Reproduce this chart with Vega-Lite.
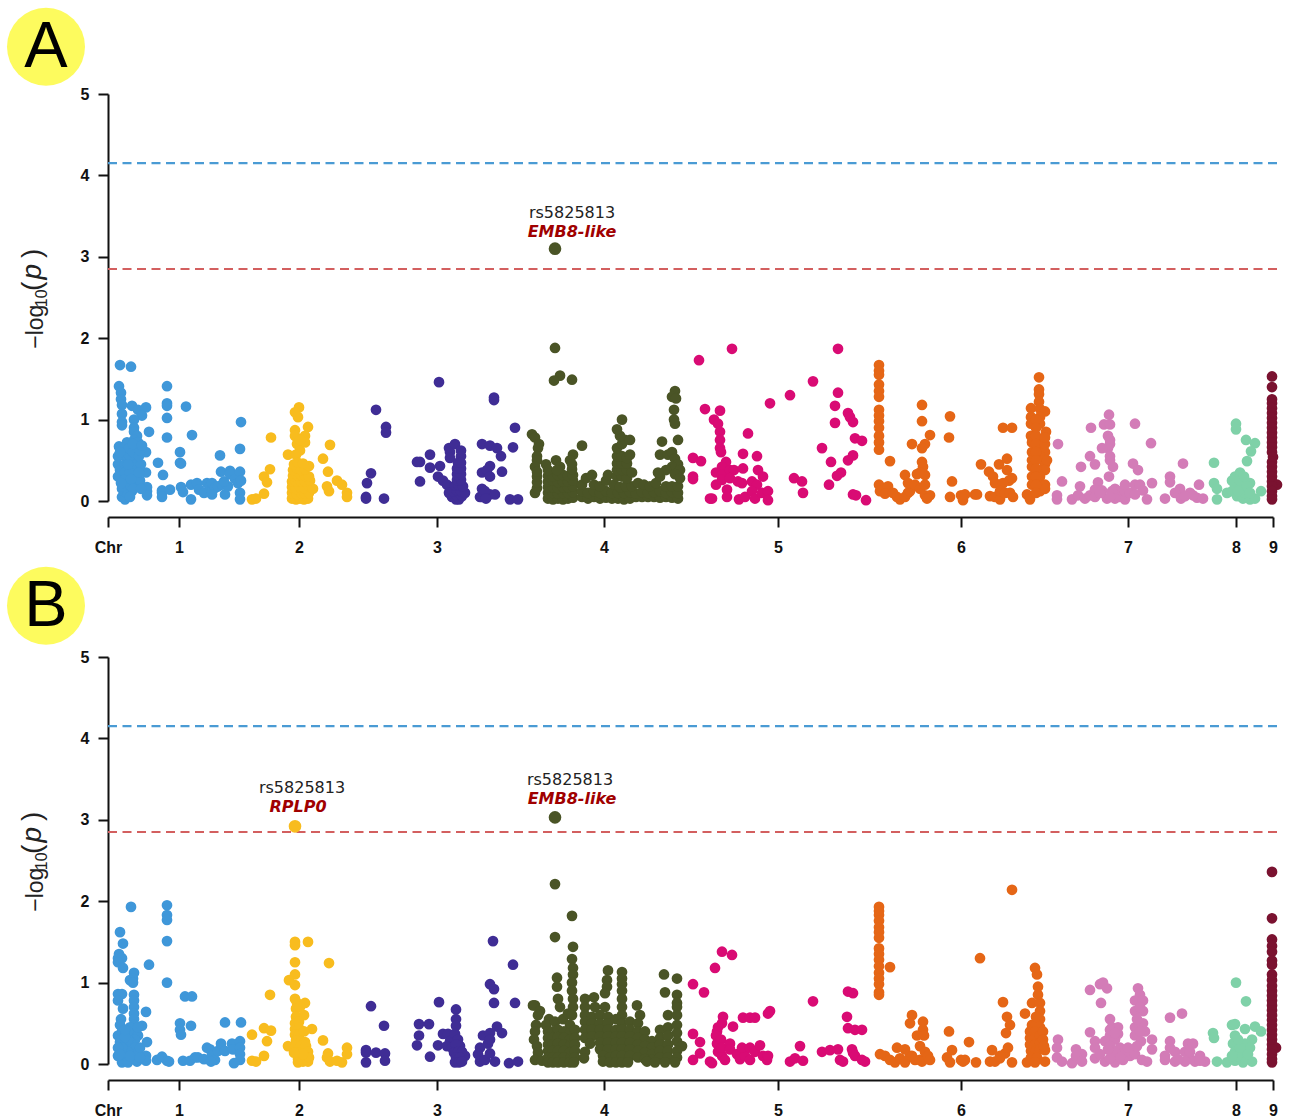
{"$schema":"https://vega.github.io/schema/vega-lite/v6.json","background":"white","padding":{"left":7,"top":7,"right":5,"bottom":5},"bounds":"flush","spacing":156,
"config":{"view":{"stroke":null},"axis":{"grid":false,"domainColor":"#111","tickColor":"#111","domainWidth":2,"tickWidth":2,"tickSize":10,"labelColor":"#111","labelFont":"Liberation Sans","labelFontWeight":"bold","labelFontSize":16,"title":null}},
"datasets":{
"thr":[{"x":108,"x2":1277,"y":4.15,"k":"suggestive"},{"x":108,"x2":1277,"y":2.85,"k":"significant"}],
"ylab":[{"x":43,"y":1.87,"t":"−log"},{"x":47,"y":2.38,"t":"10"}],
"ylabp":[{"x":41,"y":2.58,"t":"("},{"x":41,"y":2.985,"t":")"}],
"ylabi":[{"x":41,"y":2.72,"t":"p"}],
"hitA":[{"c":"4","x":555,"y":3.1}],
"hitB":[{"c":"2","x":295,"y":2.92},{"c":"4","x":555,"y":3.03}],
"snpA":[{"x":572,"y":3.54,"t":"rs5825813"}],
"geneA":[{"x":572,"y":3.3,"t":"EMB8-like"}],
"snpB":[{"x":302,"y":3.39,"t":"rs5825813"},{"x":570,"y":3.49,"t":"rs5825813"}],
"geneB":[{"x":298,"y":3.16,"t":"RPLP0"},{"x":572,"y":3.26,"t":"EMB8-like"}],
"tagA":[{"x":46,"y":5.58,"t":"A"}],
"tagB":[{"x":46,"y":5.63,"t":"B"}],
"a":[
{"c":"1","x":120,"y":1.67},{"c":"1","x":131,"y":1.65},{"c":"1","x":119,"y":1.41},{"c":"1","x":121,"y":1.33},{"c":"1","x":121,"y":1.25},{"c":"1","x":122,"y":1.18},{"c":"1","x":132,"y":1.17},{"c":"1","x":138,"y":1.12},{"c":"1","x":146,"y":1.15},{"c":"1","x":142,"y":1.05},{"c":"1","x":122,"y":1.07},{"c":"1","x":122,"y":0.97},{"c":"1","x":122,"y":0.93},{"c":"1","x":134,"y":1.0},{"c":"1","x":134,"y":0.9},{"c":"1","x":134,"y":0.85},{"c":"1","x":137,"y":0.8},{"c":"1","x":134,"y":0.75},{"c":"1","x":138,"y":0.72},{"c":"1","x":127,"y":0.72},{"c":"1","x":119,"y":0.67},{"c":"1","x":124,"y":0.65},{"c":"1","x":125,"y":0.55},{"c":"1","x":136,"y":0.65},{"c":"1","x":136,"y":0.55},{"c":"1","x":146,"y":0.6},{"c":"1","x":149,"y":0.85},{"c":"1","x":158,"y":0.47},{"c":"1","x":118,"y":0.55},{"c":"1","x":118,"y":0.45},{"c":"1","x":120,"y":0.38},{"c":"1","x":118,"y":0.3},{"c":"1","x":125,"y":0.45},{"c":"1","x":125,"y":0.35},{"c":"1","x":125,"y":0.27},{"c":"1","x":125,"y":0.2},{"c":"1","x":122,"y":0.15},{"c":"1","x":122,"y":0.05},{"c":"1","x":125,"y":0.02},{"c":"1","x":128,"y":0.08},{"c":"1","x":132,"y":0.12},{"c":"1","x":136,"y":0.2},{"c":"1","x":136,"y":0.3},{"c":"1","x":136,"y":0.4},{"c":"1","x":140,"y":0.25},{"c":"1","x":135,"y":0.5},{"c":"1","x":146,"y":0.35},{"c":"1","x":147,"y":0.17},{"c":"1","x":147,"y":0.12},{"c":"1","x":147,"y":0.07},{"c":"1","x":163,"y":0.32},{"c":"1","x":162,"y":0.13},{"c":"1","x":162,"y":0.1},{"c":"1","x":162,"y":0.05},{"c":"1","x":170,"y":0.14},{"c":"1","x":167,"y":1.41},{"c":"1","x":167,"y":1.2},{"c":"1","x":167,"y":1.17},{"c":"1","x":167,"y":1.02},{"c":"1","x":167,"y":0.78},{"c":"1","x":180,"y":0.6},{"c":"1","x":180,"y":0.47},{"c":"1","x":181,"y":0.46},{"c":"1","x":186,"y":1.16},{"c":"1","x":192,"y":0.81},{"c":"1","x":181,"y":0.17},{"c":"1","x":183,"y":0.11},{"c":"1","x":191,"y":0.02},{"c":"1","x":191,"y":0.2},{"c":"1","x":197,"y":0.22},{"c":"1","x":199,"y":0.14},{"c":"1","x":204,"y":0.1},{"c":"1","x":207,"y":0.22},{"c":"1","x":210,"y":0.18},{"c":"1","x":212,"y":0.12},{"c":"1","x":212,"y":0.22},{"c":"1","x":215,"y":0.16},{"c":"1","x":218,"y":0.18},{"c":"1","x":212,"y":0.08},{"c":"1","x":220,"y":0.56},{"c":"1","x":221,"y":0.36},{"c":"1","x":225,"y":0.08},{"c":"1","x":222,"y":0.2},{"c":"1","x":228,"y":0.18},{"c":"1","x":224,"y":0.24},{"c":"1","x":230,"y":0.37},{"c":"1","x":230,"y":0.33},{"c":"1","x":235,"y":0.27},{"c":"1","x":238,"y":0.22},{"c":"1","x":240,"y":0.36},{"c":"1","x":241,"y":0.25},{"c":"1","x":240,"y":0.64},{"c":"1","x":240,"y":0.1},{"c":"1","x":240,"y":0.02},{"c":"1","x":241,"y":0.97},{"c":"1","x":130,"y":0.55},{"c":"1","x":130,"y":0.35},{"c":"1","x":130,"y":0.2},{"c":"1","x":129,"y":0.65},{"c":"1","x":128,"y":0.45},{"c":"1","x":131,"y":0.27},{"c":"1","x":133,"y":0.6},{"c":"1","x":133,"y":0.15},{"c":"1","x":141,"y":0.45},{"c":"1","x":139,"y":0.55},{"c":"1","x":140,"y":0.62},{"c":"1","x":120,"y":0.6},{"c":"1","x":121,"y":0.22},{"c":"1","x":133,"y":0.7},{"c":"1","x":139,"y":0.35},{"c":"1","x":141,"y":0.15},{"c":"1","x":142,"y":0.68},{"c":"1","x":130,"y":0.05},
{"c":"2","x":252,"y":0.02},{"c":"2","x":256,"y":0.03},{"c":"2","x":264,"y":0.09},{"c":"2","x":264,"y":0.3},{"c":"2","x":267,"y":0.23},{"c":"2","x":270,"y":0.39},{"c":"2","x":271,"y":0.78},{"c":"2","x":288,"y":0.57},{"c":"2","x":299,"y":1.15},{"c":"2","x":295,"y":1.09},{"c":"2","x":298,"y":1.03},{"c":"2","x":308,"y":0.91},{"c":"2","x":305,"y":0.8},{"c":"2","x":295,"y":0.87},{"c":"2","x":295,"y":0.8},{"c":"2","x":297,"y":0.7},{"c":"2","x":305,"y":0.72},{"c":"2","x":300,"y":0.62},{"c":"2","x":296,"y":0.57},{"c":"2","x":300,"y":0.75},{"c":"2","x":292,"y":0.03},{"c":"2","x":296,"y":0.02},{"c":"2","x":300,"y":0.03},{"c":"2","x":304,"y":0.02},{"c":"2","x":308,"y":0.03},{"c":"2","x":292,"y":0.1},{"c":"2","x":297,"y":0.08},{"c":"2","x":301,"y":0.1},{"c":"2","x":305,"y":0.09},{"c":"2","x":309,"y":0.1},{"c":"2","x":292,"y":0.17},{"c":"2","x":296,"y":0.15},{"c":"2","x":300,"y":0.17},{"c":"2","x":304,"y":0.16},{"c":"2","x":309,"y":0.18},{"c":"2","x":313,"y":0.15},{"c":"2","x":292,"y":0.24},{"c":"2","x":296,"y":0.24},{"c":"2","x":301,"y":0.24},{"c":"2","x":305,"y":0.24},{"c":"2","x":310,"y":0.25},{"c":"2","x":293,"y":0.31},{"c":"2","x":297,"y":0.32},{"c":"2","x":301,"y":0.32},{"c":"2","x":305,"y":0.31},{"c":"2","x":309,"y":0.3},{"c":"2","x":293,"y":0.38},{"c":"2","x":297,"y":0.4},{"c":"2","x":301,"y":0.38},{"c":"2","x":305,"y":0.39},{"c":"2","x":309,"y":0.43},{"c":"2","x":294,"y":0.45},{"c":"2","x":298,"y":0.47},{"c":"2","x":303,"y":0.46},{"c":"2","x":330,"y":0.69},{"c":"2","x":323,"y":0.52},{"c":"2","x":328,"y":0.36},{"c":"2","x":337,"y":0.25},{"c":"2","x":342,"y":0.2},{"c":"2","x":327,"y":0.18},{"c":"2","x":329,"y":0.12},{"c":"2","x":347,"y":0.1},{"c":"2","x":347,"y":0.05},
{"c":"3","x":376,"y":1.12},{"c":"3","x":386,"y":0.91},{"c":"3","x":386,"y":0.84},{"c":"3","x":371,"y":0.34},{"c":"3","x":367,"y":0.22},{"c":"3","x":366,"y":0.05},{"c":"3","x":366,"y":0.03},{"c":"3","x":384,"y":0.03},{"c":"3","x":439,"y":1.46},{"c":"3","x":494,"y":1.27},{"c":"3","x":494,"y":1.24},{"c":"3","x":515,"y":0.9},{"c":"3","x":513,"y":0.66},{"c":"3","x":482,"y":0.7},{"c":"3","x":490,"y":0.68},{"c":"3","x":497,"y":0.65},{"c":"3","x":501,"y":0.55},{"c":"3","x":417,"y":0.48},{"c":"3","x":420,"y":0.48},{"c":"3","x":430,"y":0.57},{"c":"3","x":430,"y":0.41},{"c":"3","x":420,"y":0.24},{"c":"3","x":440,"y":0.43},{"c":"3","x":438,"y":0.3},{"c":"3","x":443,"y":0.25},{"c":"3","x":449,"y":0.65},{"c":"3","x":450,"y":0.6},{"c":"3","x":455,"y":0.7},{"c":"3","x":461,"y":0.62},{"c":"3","x":461,"y":0.55},{"c":"3","x":450,"y":0.53},{"c":"3","x":447,"y":0.2},{"c":"3","x":456,"y":0.02},{"c":"3","x":459,"y":0.02},{"c":"3","x":452,"y":0.05},{"c":"3","x":456,"y":0.07},{"c":"3","x":462,"y":0.06},{"c":"3","x":449,"y":0.1},{"c":"3","x":453,"y":0.12},{"c":"3","x":457,"y":0.13},{"c":"3","x":461,"y":0.12},{"c":"3","x":465,"y":0.1},{"c":"3","x":455,"y":0.19},{"c":"3","x":459,"y":0.19},{"c":"3","x":463,"y":0.18},{"c":"3","x":457,"y":0.26},{"c":"3","x":461,"y":0.26},{"c":"3","x":457,"y":0.33},{"c":"3","x":461,"y":0.33},{"c":"3","x":457,"y":0.4},{"c":"3","x":461,"y":0.4},{"c":"3","x":458,"y":0.47},{"c":"3","x":461,"y":0.47},{"c":"3","x":482,"y":0.35},{"c":"3","x":490,"y":0.43},{"c":"3","x":487,"y":0.38},{"c":"3","x":502,"y":0.36},{"c":"3","x":490,"y":0.3},{"c":"3","x":482,"y":0.15},{"c":"3","x":480,"y":0.05},{"c":"3","x":482,"y":0.05},{"c":"3","x":490,"y":0.08},{"c":"3","x":495,"y":0.08},{"c":"3","x":485,"y":0.12},{"c":"3","x":486,"y":0.03},{"c":"3","x":510,"y":0.02},{"c":"3","x":518,"y":0.02},
{"c":"4","x":555,"y":1.88},{"c":"4","x":560,"y":1.54},{"c":"4","x":554,"y":1.48},{"c":"4","x":572,"y":1.49},{"c":"4","x":532,"y":0.82},{"c":"4","x":535,"y":0.78},{"c":"4","x":539,"y":0.7},{"c":"4","x":538,"y":0.65},{"c":"4","x":537,"y":0.55},{"c":"4","x":537,"y":0.5},{"c":"4","x":535,"y":0.42},{"c":"4","x":535,"y":0.1},{"c":"4","x":537,"y":0.16},{"c":"4","x":537,"y":0.23},{"c":"4","x":537,"y":0.3},{"c":"4","x":537,"y":0.36},{"c":"4","x":582,"y":0.68},{"c":"4","x":546,"y":0.45},{"c":"4","x":556,"y":0.5},{"c":"4","x":560,"y":0.42},{"c":"4","x":573,"y":0.57},{"c":"4","x":570,"y":0.5},{"c":"4","x":548,"y":0.03},{"c":"4","x":553,"y":0.02},{"c":"4","x":558,"y":0.03},{"c":"4","x":563,"y":0.02},{"c":"4","x":568,"y":0.03},{"c":"4","x":573,"y":0.04},{"c":"4","x":548,"y":0.1},{"c":"4","x":553,"y":0.1},{"c":"4","x":558,"y":0.09},{"c":"4","x":563,"y":0.1},{"c":"4","x":568,"y":0.1},{"c":"4","x":573,"y":0.11},{"c":"4","x":548,"y":0.17},{"c":"4","x":553,"y":0.17},{"c":"4","x":558,"y":0.16},{"c":"4","x":563,"y":0.17},{"c":"4","x":568,"y":0.17},{"c":"4","x":573,"y":0.18},{"c":"4","x":548,"y":0.24},{"c":"4","x":553,"y":0.25},{"c":"4","x":558,"y":0.23},{"c":"4","x":563,"y":0.24},{"c":"4","x":568,"y":0.24},{"c":"4","x":573,"y":0.25},{"c":"4","x":548,"y":0.31},{"c":"4","x":553,"y":0.3},{"c":"4","x":558,"y":0.32},{"c":"4","x":563,"y":0.32},{"c":"4","x":568,"y":0.31},{"c":"4","x":573,"y":0.32},{"c":"4","x":548,"y":0.38},{"c":"4","x":557,"y":0.38},{"c":"4","x":572,"y":0.39},{"c":"4","x":572,"y":0.45},{"c":"4","x":582,"y":0.05},{"c":"4","x":588,"y":0.03},{"c":"4","x":594,"y":0.05},{"c":"4","x":600,"y":0.03},{"c":"4","x":606,"y":0.04},{"c":"4","x":612,"y":0.03},{"c":"4","x":618,"y":0.03},{"c":"4","x":624,"y":0.02},{"c":"4","x":630,"y":0.03},{"c":"4","x":636,"y":0.05},{"c":"4","x":642,"y":0.05},{"c":"4","x":648,"y":0.05},{"c":"4","x":654,"y":0.05},{"c":"4","x":660,"y":0.04},{"c":"4","x":666,"y":0.05},{"c":"4","x":672,"y":0.04},{"c":"4","x":678,"y":0.03},{"c":"4","x":582,"y":0.12},{"c":"4","x":588,"y":0.1},{"c":"4","x":594,"y":0.12},{"c":"4","x":600,"y":0.1},{"c":"4","x":606,"y":0.12},{"c":"4","x":612,"y":0.1},{"c":"4","x":618,"y":0.1},{"c":"4","x":624,"y":0.1},{"c":"4","x":630,"y":0.11},{"c":"4","x":636,"y":0.09},{"c":"4","x":642,"y":0.11},{"c":"4","x":648,"y":0.1},{"c":"4","x":654,"y":0.11},{"c":"4","x":660,"y":0.12},{"c":"4","x":666,"y":0.1},{"c":"4","x":672,"y":0.11},{"c":"4","x":678,"y":0.1},{"c":"4","x":582,"y":0.2},{"c":"4","x":586,"y":0.28},{"c":"4","x":592,"y":0.32},{"c":"4","x":594,"y":0.2},{"c":"4","x":600,"y":0.18},{"c":"4","x":606,"y":0.25},{"c":"4","x":608,"y":0.32},{"c":"4","x":614,"y":0.2},{"c":"4","x":620,"y":0.17},{"c":"4","x":626,"y":0.18},{"c":"4","x":632,"y":0.18},{"c":"4","x":638,"y":0.22},{"c":"4","x":644,"y":0.2},{"c":"4","x":650,"y":0.18},{"c":"4","x":656,"y":0.22},{"c":"4","x":660,"y":0.3},{"c":"4","x":666,"y":0.18},{"c":"4","x":672,"y":0.18},{"c":"4","x":678,"y":0.18},{"c":"4","x":617,"y":0.3},{"c":"4","x":622,"y":0.3},{"c":"4","x":627,"y":0.28},{"c":"4","x":617,"y":0.38},{"c":"4","x":622,"y":0.38},{"c":"4","x":627,"y":0.38},{"c":"4","x":632,"y":0.35},{"c":"4","x":617,"y":0.46},{"c":"4","x":622,"y":0.46},{"c":"4","x":627,"y":0.46},{"c":"4","x":617,"y":0.55},{"c":"4","x":622,"y":0.55},{"c":"4","x":627,"y":0.53},{"c":"4","x":630,"y":0.57},{"c":"4","x":617,"y":0.65},{"c":"4","x":622,"y":0.7},{"c":"4","x":625,"y":0.75},{"c":"4","x":630,"y":0.75},{"c":"4","x":620,"y":0.8},{"c":"4","x":617,"y":0.88},{"c":"4","x":622,"y":1.0},{"c":"4","x":675,"y":1.35},{"c":"4","x":672,"y":1.28},{"c":"4","x":676,"y":1.26},{"c":"4","x":674,"y":1.12},{"c":"4","x":674,"y":1.0},{"c":"4","x":675,"y":0.95},{"c":"4","x":662,"y":0.73},{"c":"4","x":678,"y":0.75},{"c":"4","x":660,"y":0.57},{"c":"4","x":668,"y":0.57},{"c":"4","x":672,"y":0.6},{"c":"4","x":675,"y":0.52},{"c":"4","x":678,"y":0.45},{"c":"4","x":672,"y":0.42},{"c":"4","x":680,"y":0.38},{"c":"4","x":666,"y":0.38},{"c":"4","x":675,"y":0.33},{"c":"4","x":680,"y":0.28},{"c":"4","x":658,"y":0.35},
{"c":"5","x":699,"y":1.73},{"c":"5","x":732,"y":1.87},{"c":"5","x":705,"y":1.13},{"c":"5","x":720,"y":1.11},{"c":"5","x":770,"y":1.2},{"c":"5","x":790,"y":1.3},{"c":"5","x":714,"y":1.0},{"c":"5","x":718,"y":0.95},{"c":"5","x":720,"y":0.85},{"c":"5","x":720,"y":0.75},{"c":"5","x":720,"y":0.65},{"c":"5","x":721,"y":0.6},{"c":"5","x":748,"y":0.83},{"c":"5","x":693,"y":0.53},{"c":"5","x":701,"y":0.49},{"c":"5","x":693,"y":0.3},{"c":"5","x":693,"y":0.27},{"c":"5","x":743,"y":0.58},{"c":"5","x":757,"y":0.55},{"c":"5","x":726,"y":0.48},{"c":"5","x":722,"y":0.42},{"c":"5","x":716,"y":0.35},{"c":"5","x":722,"y":0.32},{"c":"5","x":730,"y":0.38},{"c":"5","x":734,"y":0.38},{"c":"5","x":743,"y":0.4},{"c":"5","x":758,"y":0.38},{"c":"5","x":763,"y":0.3},{"c":"5","x":716,"y":0.2},{"c":"5","x":722,"y":0.26},{"c":"5","x":730,"y":0.28},{"c":"5","x":738,"y":0.24},{"c":"5","x":742,"y":0.22},{"c":"5","x":752,"y":0.24},{"c":"5","x":757,"y":0.2},{"c":"5","x":710,"y":0.03},{"c":"5","x":712,"y":0.03},{"c":"5","x":727,"y":0.14},{"c":"5","x":727,"y":0.05},{"c":"5","x":739,"y":0.02},{"c":"5","x":745,"y":0.05},{"c":"5","x":752,"y":0.12},{"c":"5","x":755,"y":0.03},{"c":"5","x":762,"y":0.1},{"c":"5","x":768,"y":0.12},{"c":"5","x":768,"y":0.01},{"c":"5","x":794,"y":0.28},{"c":"5","x":802,"y":0.24},{"c":"5","x":803,"y":0.1},{"c":"5","x":838,"y":1.87},{"c":"5","x":813,"y":1.47},{"c":"5","x":838,"y":1.33},{"c":"5","x":835,"y":1.17},{"c":"5","x":848,"y":1.08},{"c":"5","x":850,"y":1.03},{"c":"5","x":853,"y":0.97},{"c":"5","x":835,"y":0.96},{"c":"5","x":855,"y":0.77},{"c":"5","x":862,"y":0.74},{"c":"5","x":822,"y":0.65},{"c":"5","x":853,"y":0.56},{"c":"5","x":848,"y":0.5},{"c":"5","x":831,"y":0.48},{"c":"5","x":841,"y":0.35},{"c":"5","x":837,"y":0.31},{"c":"5","x":829,"y":0.2},{"c":"5","x":853,"y":0.08},{"c":"5","x":856,"y":0.07},{"c":"5","x":866,"y":0.01},
{"c":"6","x":879,"y":1.67},{"c":"6","x":879,"y":1.6},{"c":"6","x":879,"y":1.55},{"c":"6","x":879,"y":1.43},{"c":"6","x":879,"y":1.35},{"c":"6","x":879,"y":1.28},{"c":"6","x":879,"y":1.12},{"c":"6","x":879,"y":1.05},{"c":"6","x":879,"y":0.98},{"c":"6","x":879,"y":0.9},{"c":"6","x":879,"y":0.8},{"c":"6","x":879,"y":0.72},{"c":"6","x":879,"y":0.63},{"c":"6","x":890,"y":0.49},{"c":"6","x":922,"y":1.18},{"c":"6","x":922,"y":0.98},{"c":"6","x":930,"y":0.81},{"c":"6","x":925,"y":0.7},{"c":"6","x":922,"y":0.65},{"c":"6","x":912,"y":0.7},{"c":"6","x":922,"y":0.48},{"c":"6","x":923,"y":0.42},{"c":"6","x":920,"y":0.35},{"c":"6","x":917,"y":0.33},{"c":"6","x":925,"y":0.32},{"c":"6","x":879,"y":0.2},{"c":"6","x":880,"y":0.12},{"c":"6","x":888,"y":0.18},{"c":"6","x":885,"y":0.09},{"c":"6","x":893,"y":0.1},{"c":"6","x":897,"y":0.05},{"c":"6","x":900,"y":0.02},{"c":"6","x":905,"y":0.05},{"c":"6","x":908,"y":0.1},{"c":"6","x":910,"y":0.12},{"c":"6","x":905,"y":0.32},{"c":"6","x":908,"y":0.22},{"c":"6","x":915,"y":0.2},{"c":"6","x":920,"y":0.15},{"c":"6","x":925,"y":0.2},{"c":"6","x":925,"y":0.07},{"c":"6","x":930,"y":0.07},{"c":"6","x":927,"y":0.03},{"c":"6","x":950,"y":1.04},{"c":"6","x":949,"y":0.78},{"c":"6","x":952,"y":0.24},{"c":"6","x":950,"y":0.05},{"c":"6","x":961,"y":0.07},{"c":"6","x":963,"y":0.01},{"c":"6","x":965,"y":0.08},{"c":"6","x":975,"y":0.08},{"c":"6","x":977,"y":0.08},{"c":"6","x":1003,"y":0.9},{"c":"6","x":1012,"y":0.9},{"c":"6","x":981,"y":0.45},{"c":"6","x":989,"y":0.36},{"c":"6","x":993,"y":0.3},{"c":"6","x":999,"y":0.45},{"c":"6","x":1007,"y":0.52},{"c":"6","x":1007,"y":0.38},{"c":"6","x":1009,"y":0.25},{"c":"6","x":995,"y":0.22},{"c":"6","x":1003,"y":0.22},{"c":"6","x":1012,"y":0.28},{"c":"6","x":990,"y":0.06},{"c":"6","x":995,"y":0.05},{"c":"6","x":1000,"y":0.02},{"c":"6","x":1000,"y":0.12},{"c":"6","x":1005,"y":0.1},{"c":"6","x":1010,"y":0.1},{"c":"6","x":1013,"y":0.05},{"c":"6","x":1039,"y":1.52},{"c":"6","x":1039,"y":1.37},{"c":"6","x":1039,"y":1.31},{"c":"6","x":1039,"y":1.22},{"c":"6","x":1031,"y":1.14},{"c":"6","x":1040,"y":1.13},{"c":"6","x":1045,"y":1.1},{"c":"6","x":1031,"y":1.03},{"c":"6","x":1040,"y":1.03},{"c":"6","x":1031,"y":0.95},{"c":"6","x":1040,"y":0.95},{"c":"6","x":1046,"y":0.85},{"c":"6","x":1031,"y":0.8},{"c":"6","x":1040,"y":0.75},{"c":"6","x":1032,"y":0.72},{"c":"6","x":1040,"y":0.65},{"c":"6","x":1045,"y":0.6},{"c":"6","x":1032,"y":0.6},{"c":"6","x":1040,"y":0.55},{"c":"6","x":1032,"y":0.5},{"c":"6","x":1045,"y":0.45},{"c":"6","x":1032,"y":0.42},{"c":"6","x":1040,"y":0.38},{"c":"6","x":1045,"y":0.38},{"c":"6","x":1032,"y":0.3},{"c":"6","x":1040,"y":0.3},{"c":"6","x":1032,"y":0.2},{"c":"6","x":1040,"y":0.2},{"c":"6","x":1045,"y":0.2},{"c":"6","x":1027,"y":0.08},{"c":"6","x":1030,"y":0.02},{"c":"6","x":1040,"y":0.12},{"c":"6","x":1045,"y":0.15},{"c":"6","x":1036,"y":1.0},{"c":"6","x":1036,"y":0.9},{"c":"6","x":1036,"y":0.8},{"c":"6","x":1036,"y":0.7},{"c":"6","x":1036,"y":0.6},{"c":"6","x":1036,"y":0.5},{"c":"6","x":1036,"y":0.4},{"c":"6","x":1036,"y":0.3},{"c":"6","x":1036,"y":0.2},{"c":"6","x":1036,"y":0.1},{"c":"6","x":1045,"y":0.7},{"c":"6","x":1047,"y":0.5},{"c":"6","x":1045,"y":0.78},
{"c":"7","x":1058,"y":0.7},{"c":"7","x":1062,"y":0.24},{"c":"7","x":1057,"y":0.07},{"c":"7","x":1057,"y":0.02},{"c":"7","x":1072,"y":0.02},{"c":"7","x":1078,"y":0.07},{"c":"7","x":1080,"y":0.18},{"c":"7","x":1085,"y":0.03},{"c":"7","x":1090,"y":0.07},{"c":"7","x":1081,"y":0.42},{"c":"7","x":1091,"y":0.9},{"c":"7","x":1104,"y":0.94},{"c":"7","x":1109,"y":1.06},{"c":"7","x":1110,"y":0.94},{"c":"7","x":1108,"y":0.8},{"c":"7","x":1110,"y":0.75},{"c":"7","x":1110,"y":0.7},{"c":"7","x":1108,"y":0.65},{"c":"7","x":1102,"y":0.65},{"c":"7","x":1110,"y":0.55},{"c":"7","x":1110,"y":0.5},{"c":"7","x":1090,"y":0.55},{"c":"7","x":1095,"y":0.45},{"c":"7","x":1113,"y":0.42},{"c":"7","x":1109,"y":0.3},{"c":"7","x":1098,"y":0.23},{"c":"7","x":1095,"y":0.14},{"c":"7","x":1095,"y":0.05},{"c":"7","x":1102,"y":0.13},{"c":"7","x":1107,"y":0.03},{"c":"7","x":1115,"y":0.15},{"c":"7","x":1118,"y":0.12},{"c":"7","x":1120,"y":0.05},{"c":"7","x":1125,"y":0.02},{"c":"7","x":1125,"y":0.12},{"c":"7","x":1112,"y":0.12},{"c":"7","x":1135,"y":0.95},{"c":"7","x":1151,"y":0.71},{"c":"7","x":1133,"y":0.46},{"c":"7","x":1138,"y":0.38},{"c":"7","x":1135,"y":0.2},{"c":"7","x":1140,"y":0.2},{"c":"7","x":1130,"y":0.1},{"c":"7","x":1143,"y":0.13},{"c":"7","x":1147,"y":0.02},{"c":"7","x":1152,"y":0.22},{"c":"7","x":1135,"y":0.08},{"c":"7","x":1170,"y":0.3},{"c":"7","x":1170,"y":0.23},{"c":"7","x":1165,"y":0.03},{"c":"7","x":1183,"y":0.46},{"c":"7","x":1180,"y":0.15},{"c":"7","x":1175,"y":0.1},{"c":"7","x":1181,"y":0.03},{"c":"7","x":1190,"y":0.1},{"c":"7","x":1197,"y":0.04},{"c":"7","x":1199,"y":0.2},{"c":"7","x":1203,"y":0.03},{"c":"7","x":1193,"y":0.07},{"c":"7","x":1185,"y":0.06},{"c":"7","x":1115,"y":0.03},{"c":"7","x":1110,"y":0.05},{"c":"7","x":1100,"y":0.1},{"c":"7","x":1125,"y":0.2},
{"c":"8","x":1214,"y":0.47},{"c":"8","x":1214,"y":0.22},{"c":"8","x":1217,"y":0.15},{"c":"8","x":1217,"y":0.02},{"c":"8","x":1236,"y":0.95},{"c":"8","x":1236,"y":0.88},{"c":"8","x":1246,"y":0.75},{"c":"8","x":1255,"y":0.71},{"c":"8","x":1251,"y":0.61},{"c":"8","x":1247,"y":0.49},{"c":"8","x":1227,"y":0.1},{"c":"8","x":1235,"y":0.3},{"c":"8","x":1235,"y":0.2},{"c":"8","x":1240,"y":0.35},{"c":"8","x":1245,"y":0.25},{"c":"8","x":1250,"y":0.22},{"c":"8","x":1240,"y":0.15},{"c":"8","x":1232,"y":0.12},{"c":"8","x":1237,"y":0.06},{"c":"8","x":1243,"y":0.03},{"c":"8","x":1250,"y":0.02},{"c":"8","x":1255,"y":0.03},{"c":"8","x":1261,"y":0.12},{"c":"8","x":1245,"y":0.1},{"c":"8","x":1232,"y":0.25},{"c":"8","x":1240,"y":0.25},{"c":"8","x":1247,"y":0.18},{"c":"8","x":1238,"y":0.12},{"c":"8","x":1250,"y":0.1},{"c":"8","x":1244,"y":0.3},
{"c":"9","x":1272,"y":1.53},{"c":"9","x":1272,"y":1.4},{"c":"9","x":1272,"y":1.25},{"c":"9","x":1272,"y":1.2},{"c":"9","x":1272,"y":1.14},{"c":"9","x":1272,"y":1.08},{"c":"9","x":1272,"y":1.02},{"c":"9","x":1272,"y":0.96},{"c":"9","x":1272,"y":0.9},{"c":"9","x":1272,"y":0.84},{"c":"9","x":1272,"y":0.78},{"c":"9","x":1272,"y":0.72},{"c":"9","x":1272,"y":0.66},{"c":"9","x":1272,"y":0.6},{"c":"9","x":1273,"y":0.54},{"c":"9","x":1272,"y":0.48},{"c":"9","x":1272,"y":0.42},{"c":"9","x":1272,"y":0.36},{"c":"9","x":1272,"y":0.3},{"c":"9","x":1272,"y":0.24},{"c":"9","x":1277,"y":0.2},{"c":"9","x":1272,"y":0.18},{"c":"9","x":1272,"y":0.12},{"c":"9","x":1272,"y":0.06},{"c":"9","x":1272,"y":0.02}
],
"b":[
{"c":"1","x":120,"y":1.62},{"c":"1","x":123,"y":1.48},{"c":"1","x":131,"y":1.93},{"c":"1","x":119,"y":1.35},{"c":"1","x":118,"y":1.3},{"c":"1","x":122,"y":1.3},{"c":"1","x":118,"y":1.25},{"c":"1","x":123,"y":1.18},{"c":"1","x":134,"y":1.12},{"c":"1","x":133,"y":1.05},{"c":"1","x":130,"y":1.03},{"c":"1","x":133,"y":1},{"c":"1","x":149,"y":1.22},{"c":"1","x":118,"y":0.86},{"c":"1","x":122,"y":0.86},{"c":"1","x":118,"y":0.78},{"c":"1","x":123,"y":0.68},{"c":"1","x":134,"y":0.85},{"c":"1","x":134,"y":0.78},{"c":"1","x":134,"y":0.7},{"c":"1","x":134,"y":0.62},{"c":"1","x":134,"y":0.55},{"c":"1","x":134,"y":0.48},{"c":"1","x":146,"y":0.64},{"c":"1","x":121,"y":0.55},{"c":"1","x":120,"y":0.48},{"c":"1","x":118,"y":0.35},{"c":"1","x":122,"y":0.4},{"c":"1","x":120,"y":0.27},{"c":"1","x":125,"y":0.2},{"c":"1","x":125,"y":0.12},{"c":"1","x":125,"y":0.05},{"c":"1","x":122,"y":0.02},{"c":"1","x":128,"y":0.02},{"c":"1","x":133,"y":0.4},{"c":"1","x":138,"y":0.35},{"c":"1","x":142,"y":0.47},{"c":"1","x":135,"y":0.3},{"c":"1","x":130,"y":0.28},{"c":"1","x":135,"y":0.2},{"c":"1","x":135,"y":0.12},{"c":"1","x":137,"y":0.03},{"c":"1","x":147,"y":0.27},{"c":"1","x":146,"y":0.1},{"c":"1","x":146,"y":0.04},{"c":"1","x":138,"y":0.15},{"c":"1","x":157,"y":0.05},{"c":"1","x":162,"y":0.09},{"c":"1","x":167,"y":0.04},{"c":"1","x":169,"y":0.03},{"c":"1","x":167,"y":1.95},{"c":"1","x":167,"y":1.83},{"c":"1","x":167,"y":1.77},{"c":"1","x":167,"y":1.51},{"c":"1","x":167,"y":1.0},{"c":"1","x":185,"y":0.83},{"c":"1","x":192,"y":0.83},{"c":"1","x":180,"y":0.5},{"c":"1","x":180,"y":0.42},{"c":"1","x":181,"y":0.36},{"c":"1","x":191,"y":0.47},{"c":"1","x":183,"y":0.04},{"c":"1","x":190,"y":0.04},{"c":"1","x":195,"y":0.08},{"c":"1","x":198,"y":0.08},{"c":"1","x":204,"y":0.06},{"c":"1","x":207,"y":0.2},{"c":"1","x":210,"y":0.18},{"c":"1","x":212,"y":0.1},{"c":"1","x":215,"y":0.05},{"c":"1","x":218,"y":0.16},{"c":"1","x":211,"y":0.03},{"c":"1","x":221,"y":0.25},{"c":"1","x":225,"y":0.16},{"c":"1","x":225,"y":0.51},{"c":"1","x":232,"y":0.25},{"c":"1","x":233,"y":0.18},{"c":"1","x":240,"y":0.28},{"c":"1","x":241,"y":0.51},{"c":"1","x":240,"y":0.2},{"c":"1","x":240,"y":0.12},{"c":"1","x":240,"y":0.05},{"c":"1","x":234,"y":0.01},{"c":"1","x":128,"y":0.3},{"c":"1","x":128,"y":0.15},{"c":"1","x":130,"y":0.45},{"c":"1","x":130,"y":0.1},{"c":"1","x":122,"y":0.3},{"c":"1","x":122,"y":0.2},{"c":"1","x":118,"y":0.2},{"c":"1","x":118,"y":0.1},{"c":"1","x":140,"y":0.2},{"c":"1","x":140,"y":0.08},{"c":"1","x":128,"y":0.4},{"c":"1","x":138,"y":0.45},{"c":"1","x":125,"y":0.33},{"c":"1","x":125,"y":0.42},{"c":"1","x":120,"y":0.12},
{"c":"2","x":252,"y":0.36},{"c":"2","x":252,"y":0.04},{"c":"2","x":256,"y":0.03},{"c":"2","x":264,"y":0.1},{"c":"2","x":264,"y":0.44},{"c":"2","x":267,"y":0.28},{"c":"2","x":271,"y":0.41},{"c":"2","x":270,"y":0.85},{"c":"2","x":288,"y":0.22},{"c":"2","x":295,"y":1.5},{"c":"2","x":295,"y":1.46},{"c":"2","x":308,"y":1.5},{"c":"2","x":295,"y":1.25},{"c":"2","x":329,"y":1.24},{"c":"2","x":295,"y":1.1},{"c":"2","x":289,"y":1.03},{"c":"2","x":295,"y":0.97},{"c":"2","x":295,"y":0.8},{"c":"2","x":297,"y":0.75},{"c":"2","x":305,"y":0.75},{"c":"2","x":296,"y":0.68},{"c":"2","x":300,"y":0.7},{"c":"2","x":304,"y":0.6},{"c":"2","x":296,"y":0.58},{"c":"2","x":312,"y":0.43},{"c":"2","x":295,"y":0.5},{"c":"2","x":299,"y":0.52},{"c":"2","x":295,"y":0.43},{"c":"2","x":299,"y":0.44},{"c":"2","x":295,"y":0.36},{"c":"2","x":299,"y":0.36},{"c":"2","x":296,"y":0.29},{"c":"2","x":301,"y":0.28},{"c":"2","x":305,"y":0.27},{"c":"2","x":296,"y":0.22},{"c":"2","x":301,"y":0.22},{"c":"2","x":306,"y":0.22},{"c":"2","x":298,"y":0.14},{"c":"2","x":308,"y":0.15},{"c":"2","x":298,"y":0.06},{"c":"2","x":298,"y":0.02},{"c":"2","x":303,"y":0.03},{"c":"2","x":308,"y":0.03},{"c":"2","x":309,"y":0.08},{"c":"2","x":323,"y":0.29},{"c":"2","x":328,"y":0.13},{"c":"2","x":327,"y":0.08},{"c":"2","x":330,"y":0.03},{"c":"2","x":337,"y":0.04},{"c":"2","x":342,"y":0.02},{"c":"2","x":347,"y":0.2},{"c":"2","x":347,"y":0.12},{"c":"2","x":303,"y":0.12},{"c":"2","x":294,"y":0.14},{"c":"2","x":304,"y":0.4},
{"c":"3","x":366,"y":0.17},{"c":"3","x":366,"y":0.14},{"c":"3","x":366,"y":0.02},{"c":"3","x":376,"y":0.14},{"c":"3","x":371,"y":0.71},{"c":"3","x":384,"y":0.47},{"c":"3","x":385,"y":0.13},{"c":"3","x":385,"y":0.04},{"c":"3","x":417,"y":0.23},{"c":"3","x":419,"y":0.35},{"c":"3","x":419,"y":0.49},{"c":"3","x":429,"y":0.49},{"c":"3","x":430,"y":0.09},{"c":"3","x":439,"y":0.76},{"c":"3","x":456,"y":0.67},{"c":"3","x":456,"y":0.55},{"c":"3","x":456,"y":0.47},{"c":"3","x":438,"y":0.23},{"c":"3","x":443,"y":0.37},{"c":"3","x":448,"y":0.37},{"c":"3","x":450,"y":0.28},{"c":"3","x":455,"y":0.37},{"c":"3","x":458,"y":0.3},{"c":"3","x":460,"y":0.22},{"c":"3","x":465,"y":0.1},{"c":"3","x":447,"y":0.22},{"c":"3","x":452,"y":0.2},{"c":"3","x":456,"y":0.24},{"c":"3","x":454,"y":0.14},{"c":"3","x":458,"y":0.15},{"c":"3","x":462,"y":0.15},{"c":"3","x":456,"y":0.08},{"c":"3","x":460,"y":0.08},{"c":"3","x":455,"y":0.02},{"c":"3","x":459,"y":0.02},{"c":"3","x":462,"y":0.03},{"c":"3","x":493,"y":1.51},{"c":"3","x":490,"y":0.98},{"c":"3","x":494,"y":0.92},{"c":"3","x":494,"y":0.75},{"c":"3","x":513,"y":1.22},{"c":"3","x":515,"y":0.75},{"c":"3","x":497,"y":0.46},{"c":"3","x":502,"y":0.38},{"c":"3","x":483,"y":0.35},{"c":"3","x":490,"y":0.38},{"c":"3","x":480,"y":0.2},{"c":"3","x":478,"y":0.12},{"c":"3","x":480,"y":0.03},{"c":"3","x":485,"y":0.05},{"c":"3","x":490,"y":0.13},{"c":"3","x":495,"y":0.03},{"c":"3","x":488,"y":0.25},{"c":"3","x":490,"y":0.3},{"c":"3","x":509,"y":0.01},{"c":"3","x":518,"y":0.03},
{"c":"4","x":555,"y":2.21},{"c":"4","x":572,"y":1.82},{"c":"4","x":555,"y":1.56},{"c":"4","x":573,"y":1.44},{"c":"4","x":572,"y":1.29},{"c":"4","x":573,"y":1.18},{"c":"4","x":573,"y":1.1},{"c":"4","x":572,"y":1.0},{"c":"4","x":557,"y":1.06},{"c":"4","x":557,"y":0.95},{"c":"4","x":572,"y":0.9},{"c":"4","x":558,"y":0.8},{"c":"4","x":560,"y":0.7},{"c":"4","x":573,"y":0.8},{"c":"4","x":573,"y":0.7},{"c":"4","x":535,"y":0.72},{"c":"4","x":533,"y":0.72},{"c":"4","x":540,"y":0.65},{"c":"4","x":538,"y":0.6},{"c":"4","x":536,"y":0.48},{"c":"4","x":535,"y":0.4},{"c":"4","x":534,"y":0.3},{"c":"4","x":537,"y":0.22},{"c":"4","x":538,"y":0.14},{"c":"4","x":535,"y":0.05},{"c":"4","x":542,"y":0.04},{"c":"4","x":549,"y":0.55},{"c":"4","x":546,"y":0.48},{"c":"4","x":555,"y":0.52},{"c":"4","x":563,"y":0.55},{"c":"4","x":568,"y":0.62},{"c":"4","x":572,"y":0.6},{"c":"4","x":570,"y":0.48},{"c":"4","x":548,"y":0.4},{"c":"4","x":553,"y":0.4},{"c":"4","x":558,"y":0.42},{"c":"4","x":564,"y":0.4},{"c":"4","x":570,"y":0.38},{"c":"4","x":575,"y":0.42},{"c":"4","x":548,"y":0.32},{"c":"4","x":553,"y":0.32},{"c":"4","x":558,"y":0.33},{"c":"4","x":564,"y":0.32},{"c":"4","x":570,"y":0.3},{"c":"4","x":575,"y":0.32},{"c":"4","x":548,"y":0.24},{"c":"4","x":553,"y":0.24},{"c":"4","x":558,"y":0.25},{"c":"4","x":564,"y":0.24},{"c":"4","x":570,"y":0.22},{"c":"4","x":575,"y":0.24},{"c":"4","x":548,"y":0.16},{"c":"4","x":553,"y":0.16},{"c":"4","x":558,"y":0.16},{"c":"4","x":564,"y":0.16},{"c":"4","x":570,"y":0.14},{"c":"4","x":575,"y":0.16},{"c":"4","x":548,"y":0.08},{"c":"4","x":553,"y":0.08},{"c":"4","x":558,"y":0.08},{"c":"4","x":564,"y":0.08},{"c":"4","x":570,"y":0.06},{"c":"4","x":575,"y":0.08},{"c":"4","x":548,"y":0.02},{"c":"4","x":553,"y":0.02},{"c":"4","x":558,"y":0.02},{"c":"4","x":564,"y":0.02},{"c":"4","x":570,"y":0.02},{"c":"4","x":574,"y":0.02},{"c":"4","x":608,"y":1.15},{"c":"4","x":607,"y":1.03},{"c":"4","x":607,"y":0.95},{"c":"4","x":605,"y":0.87},{"c":"4","x":622,"y":1.13},{"c":"4","x":622,"y":1.05},{"c":"4","x":622,"y":0.98},{"c":"4","x":622,"y":0.9},{"c":"4","x":622,"y":0.8},{"c":"4","x":622,"y":0.7},{"c":"4","x":622,"y":0.6},{"c":"4","x":594,"y":0.82},{"c":"4","x":585,"y":0.8},{"c":"4","x":595,"y":0.7},{"c":"4","x":585,"y":0.7},{"c":"4","x":605,"y":0.7},{"c":"4","x":664,"y":1.1},{"c":"4","x":677,"y":1.05},{"c":"4","x":665,"y":0.88},{"c":"4","x":677,"y":0.85},{"c":"4","x":677,"y":0.75},{"c":"4","x":677,"y":0.7},{"c":"4","x":637,"y":0.72},{"c":"4","x":640,"y":0.6},{"c":"4","x":668,"y":0.6},{"c":"4","x":677,"y":0.6},{"c":"4","x":585,"y":0.6},{"c":"4","x":592,"y":0.58},{"c":"4","x":600,"y":0.6},{"c":"4","x":608,"y":0.58},{"c":"4","x":585,"y":0.52},{"c":"4","x":592,"y":0.5},{"c":"4","x":600,"y":0.5},{"c":"4","x":608,"y":0.5},{"c":"4","x":616,"y":0.55},{"c":"4","x":622,"y":0.5},{"c":"4","x":630,"y":0.52},{"c":"4","x":638,"y":0.5},{"c":"4","x":585,"y":0.42},{"c":"4","x":592,"y":0.42},{"c":"4","x":600,"y":0.42},{"c":"4","x":608,"y":0.42},{"c":"4","x":616,"y":0.42},{"c":"4","x":622,"y":0.42},{"c":"4","x":630,"y":0.42},{"c":"4","x":638,"y":0.4},{"c":"4","x":645,"y":0.4},{"c":"4","x":660,"y":0.42},{"c":"4","x":668,"y":0.45},{"c":"4","x":677,"y":0.48},{"c":"4","x":677,"y":0.38},{"c":"4","x":585,"y":0.32},{"c":"4","x":592,"y":0.34},{"c":"4","x":600,"y":0.34},{"c":"4","x":608,"y":0.34},{"c":"4","x":616,"y":0.34},{"c":"4","x":622,"y":0.34},{"c":"4","x":630,"y":0.34},{"c":"4","x":638,"y":0.32},{"c":"4","x":645,"y":0.3},{"c":"4","x":652,"y":0.28},{"c":"4","x":660,"y":0.32},{"c":"4","x":668,"y":0.35},{"c":"4","x":677,"y":0.28},{"c":"4","x":682,"y":0.22},{"c":"4","x":590,"y":0.25},{"c":"4","x":600,"y":0.26},{"c":"4","x":608,"y":0.26},{"c":"4","x":616,"y":0.26},{"c":"4","x":622,"y":0.26},{"c":"4","x":630,"y":0.26},{"c":"4","x":638,"y":0.24},{"c":"4","x":645,"y":0.22},{"c":"4","x":652,"y":0.2},{"c":"4","x":660,"y":0.24},{"c":"4","x":668,"y":0.24},{"c":"4","x":585,"y":0.15},{"c":"4","x":600,"y":0.18},{"c":"4","x":608,"y":0.18},{"c":"4","x":616,"y":0.18},{"c":"4","x":622,"y":0.18},{"c":"4","x":630,"y":0.18},{"c":"4","x":638,"y":0.16},{"c":"4","x":645,"y":0.14},{"c":"4","x":652,"y":0.12},{"c":"4","x":660,"y":0.16},{"c":"4","x":668,"y":0.16},{"c":"4","x":677,"y":0.16},{"c":"4","x":584,"y":0.07},{"c":"4","x":603,"y":0.1},{"c":"4","x":610,"y":0.08},{"c":"4","x":616,"y":0.1},{"c":"4","x":622,"y":0.1},{"c":"4","x":630,"y":0.1},{"c":"4","x":638,"y":0.08},{"c":"4","x":645,"y":0.06},{"c":"4","x":652,"y":0.05},{"c":"4","x":660,"y":0.08},{"c":"4","x":668,"y":0.08},{"c":"4","x":677,"y":0.08},{"c":"4","x":603,"y":0.03},{"c":"4","x":610,"y":0.02},{"c":"4","x":616,"y":0.02},{"c":"4","x":622,"y":0.02},{"c":"4","x":628,"y":0.02},{"c":"4","x":647,"y":0.03},{"c":"4","x":655,"y":0.02},{"c":"4","x":665,"y":0.02},{"c":"4","x":675,"y":0.02},
{"c":"5","x":693,"y":0.98},{"c":"5","x":704,"y":0.88},{"c":"5","x":722,"y":1.38},{"c":"5","x":732,"y":1.34},{"c":"5","x":715,"y":1.18},{"c":"5","x":693,"y":0.37},{"c":"5","x":700,"y":0.27},{"c":"5","x":700,"y":0.13},{"c":"5","x":693,"y":0.05},{"c":"5","x":710,"y":0.03},{"c":"5","x":712,"y":0.01},{"c":"5","x":723,"y":0.58},{"c":"5","x":722,"y":0.5},{"c":"5","x":718,"y":0.45},{"c":"5","x":717,"y":0.4},{"c":"5","x":716,"y":0.35},{"c":"5","x":717,"y":0.25},{"c":"5","x":718,"y":0.15},{"c":"5","x":722,"y":0.1},{"c":"5","x":725,"y":0.05},{"c":"5","x":721,"y":0.3},{"c":"5","x":722,"y":0.2},{"c":"5","x":730,"y":0.25},{"c":"5","x":730,"y":0.18},{"c":"5","x":733,"y":0.46},{"c":"5","x":743,"y":0.57},{"c":"5","x":750,"y":0.57},{"c":"5","x":755,"y":0.57},{"c":"5","x":770,"y":0.65},{"c":"5","x":768,"y":0.62},{"c":"5","x":737,"y":0.12},{"c":"5","x":740,"y":0.06},{"c":"5","x":745,"y":0.1},{"c":"5","x":750,"y":0.05},{"c":"5","x":742,"y":0.2},{"c":"5","x":750,"y":0.2},{"c":"5","x":755,"y":0.15},{"c":"5","x":760,"y":0.23},{"c":"5","x":763,"y":0.1},{"c":"5","x":767,"y":0.05},{"c":"5","x":768,"y":0.1},{"c":"5","x":790,"y":0.03},{"c":"5","x":795,"y":0.07},{"c":"5","x":800,"y":0.22},{"c":"5","x":803,"y":0.04},{"c":"5","x":813,"y":0.77},{"c":"5","x":848,"y":0.89},{"c":"5","x":853,"y":0.87},{"c":"5","x":822,"y":0.15},{"c":"5","x":830,"y":0.17},{"c":"5","x":838,"y":0.18},{"c":"5","x":840,"y":0.05},{"c":"5","x":843,"y":0.03},{"c":"5","x":847,"y":0.58},{"c":"5","x":848,"y":0.44},{"c":"5","x":855,"y":0.42},{"c":"5","x":862,"y":0.42},{"c":"5","x":852,"y":0.18},{"c":"5","x":853,"y":0.14},{"c":"5","x":855,"y":0.1},{"c":"5","x":862,"y":0.05},{"c":"5","x":865,"y":0.03},
{"c":"6","x":879,"y":1.93},{"c":"6","x":879,"y":1.88},{"c":"6","x":879,"y":1.83},{"c":"6","x":879,"y":1.76},{"c":"6","x":879,"y":1.68},{"c":"6","x":879,"y":1.62},{"c":"6","x":879,"y":1.55},{"c":"6","x":879,"y":1.42},{"c":"6","x":879,"y":1.35},{"c":"6","x":879,"y":1.28},{"c":"6","x":879,"y":1.2},{"c":"6","x":879,"y":1.12},{"c":"6","x":879,"y":1.05},{"c":"6","x":890,"y":1.19},{"c":"6","x":879,"y":0.98},{"c":"6","x":879,"y":0.88},{"c":"6","x":879,"y":0.85},{"c":"6","x":912,"y":0.6},{"c":"6","x":910,"y":0.5},{"c":"6","x":923,"y":0.52},{"c":"6","x":923,"y":0.42},{"c":"6","x":917,"y":0.35},{"c":"6","x":924,"y":0.35},{"c":"6","x":920,"y":0.22},{"c":"6","x":925,"y":0.15},{"c":"6","x":880,"y":0.12},{"c":"6","x":885,"y":0.1},{"c":"6","x":890,"y":0.05},{"c":"6","x":895,"y":0.02},{"c":"6","x":897,"y":0.2},{"c":"6","x":900,"y":0.07},{"c":"6","x":905,"y":0.02},{"c":"6","x":910,"y":0.1},{"c":"6","x":905,"y":0.18},{"c":"6","x":912,"y":0.1},{"c":"6","x":915,"y":0.05},{"c":"6","x":920,"y":0.05},{"c":"6","x":922,"y":0.03},{"c":"6","x":928,"y":0.1},{"c":"6","x":930,"y":0.05},{"c":"6","x":949,"y":0.4},{"c":"6","x":952,"y":0.17},{"c":"6","x":947,"y":0.08},{"c":"6","x":950,"y":0.02},{"c":"6","x":961,"y":0.05},{"c":"6","x":963,"y":0.03},{"c":"6","x":965,"y":0.05},{"c":"6","x":969,"y":0.27},{"c":"6","x":976,"y":0.02},{"c":"6","x":992,"y":0.17},{"c":"6","x":990,"y":0.03},{"c":"6","x":995,"y":0.03},{"c":"6","x":1000,"y":0.07},{"c":"6","x":1005,"y":0.13},{"c":"6","x":1008,"y":0.2},{"c":"6","x":1000,"y":0.1},{"c":"6","x":1012,"y":0.02},{"c":"6","x":1003,"y":0.76},{"c":"6","x":1007,"y":0.58},{"c":"6","x":1010,"y":0.48},{"c":"6","x":1006,"y":0.38},{"c":"6","x":1012,"y":2.14},{"c":"6","x":980,"y":1.3},{"c":"6","x":1025,"y":0.62},{"c":"6","x":1035,"y":1.18},{"c":"6","x":1037,"y":1.1},{"c":"6","x":1038,"y":0.95},{"c":"6","x":1038,"y":0.85},{"c":"6","x":1032,"y":0.75},{"c":"6","x":1040,"y":0.75},{"c":"6","x":1040,"y":0.65},{"c":"6","x":1040,"y":0.55},{"c":"6","x":1040,"y":0.45},{"c":"6","x":1032,"y":0.48},{"c":"6","x":1036,"y":0.48},{"c":"6","x":1030,"y":0.4},{"c":"6","x":1035,"y":0.4},{"c":"6","x":1030,"y":0.32},{"c":"6","x":1035,"y":0.32},{"c":"6","x":1040,"y":0.35},{"c":"6","x":1030,"y":0.24},{"c":"6","x":1035,"y":0.24},{"c":"6","x":1040,"y":0.26},{"c":"6","x":1031,"y":0.16},{"c":"6","x":1036,"y":0.16},{"c":"6","x":1040,"y":0.18},{"c":"6","x":1031,"y":0.08},{"c":"6","x":1037,"y":0.08},{"c":"6","x":1027,"y":0.02},{"c":"6","x":1035,"y":0.02},{"c":"6","x":1045,"y":0.17},{"c":"6","x":1045,"y":0.03},{"c":"6","x":1043,"y":0.4},{"c":"6","x":1043,"y":0.3},{"c":"6","x":1036,"y":0.58},{"c":"6","x":1044,"y":0.22},
{"c":"7","x":1058,"y":0.3},{"c":"7","x":1057,"y":0.2},{"c":"7","x":1057,"y":0.08},{"c":"7","x":1062,"y":0.03},{"c":"7","x":1072,"y":0.01},{"c":"7","x":1076,"y":0.18},{"c":"7","x":1082,"y":0.12},{"c":"7","x":1076,"y":0.1},{"c":"7","x":1082,"y":0.03},{"c":"7","x":1090,"y":0.91},{"c":"7","x":1100,"y":0.98},{"c":"7","x":1103,"y":1.0},{"c":"7","x":1107,"y":0.93},{"c":"7","x":1101,"y":0.75},{"c":"7","x":1090,"y":0.39},{"c":"7","x":1095,"y":0.28},{"c":"7","x":1095,"y":0.2},{"c":"7","x":1095,"y":0.07},{"c":"7","x":1105,"y":0.03},{"c":"7","x":1110,"y":0.55},{"c":"7","x":1112,"y":0.45},{"c":"7","x":1118,"y":0.45},{"c":"7","x":1118,"y":0.37},{"c":"7","x":1110,"y":0.35},{"c":"7","x":1105,"y":0.28},{"c":"7","x":1115,"y":0.3},{"c":"7","x":1120,"y":0.2},{"c":"7","x":1112,"y":0.15},{"c":"7","x":1117,"y":0.08},{"c":"7","x":1115,"y":0.02},{"c":"7","x":1110,"y":0.22},{"c":"7","x":1125,"y":0.15},{"c":"7","x":1130,"y":0.1},{"c":"7","x":1138,"y":0.93},{"c":"7","x":1140,"y":0.85},{"c":"7","x":1135,"y":0.78},{"c":"7","x":1143,"y":0.78},{"c":"7","x":1135,"y":0.65},{"c":"7","x":1143,"y":0.65},{"c":"7","x":1143,"y":0.5},{"c":"7","x":1135,"y":0.45},{"c":"7","x":1145,"y":0.4},{"c":"7","x":1135,"y":0.35},{"c":"7","x":1141,"y":0.28},{"c":"7","x":1152,"y":0.3},{"c":"7","x":1152,"y":0.18},{"c":"7","x":1135,"y":0.12},{"c":"7","x":1142,"y":0.05},{"c":"7","x":1147,"y":0.03},{"c":"7","x":1170,"y":0.57},{"c":"7","x":1182,"y":0.62},{"c":"7","x":1170,"y":0.28},{"c":"7","x":1170,"y":0.2},{"c":"7","x":1165,"y":0.1},{"c":"7","x":1165,"y":0.05},{"c":"7","x":1175,"y":0.03},{"c":"7","x":1175,"y":0.15},{"c":"7","x":1185,"y":0.15},{"c":"7","x":1188,"y":0.25},{"c":"7","x":1193,"y":0.25},{"c":"7","x":1190,"y":0.07},{"c":"7","x":1195,"y":0.03},{"c":"7","x":1200,"y":0.1},{"c":"7","x":1205,"y":0.03},{"c":"7","x":1200,"y":0.04},{"c":"7","x":1185,"y":0.03},{"c":"7","x":1115,"y":0.15},{"c":"7","x":1123,"y":0.05},{"c":"7","x":1108,"y":0.18},{"c":"7","x":1100,"y":0.12},{"c":"7","x":1128,"y":0.2},{"c":"7","x":1140,"y":0.4},{"c":"7","x":1137,"y":0.55},{"c":"7","x":1140,"y":0.7},{"c":"7","x":1110,"y":0.42},{"c":"7","x":1115,"y":0.38},{"c":"7","x":1120,"y":0.08},{"c":"7","x":1110,"y":0.07},{"c":"7","x":1137,"y":0.22},{"c":"7","x":1178,"y":0.06},{"c":"7","x":1190,"y":0.15},
{"c":"8","x":1236,"y":1.0},{"c":"8","x":1246,"y":0.77},{"c":"8","x":1213,"y":0.38},{"c":"8","x":1214,"y":0.32},{"c":"8","x":1217,"y":0.03},{"c":"8","x":1227,"y":0.02},{"c":"8","x":1255,"y":0.46},{"c":"8","x":1261,"y":0.4},{"c":"8","x":1235,"y":0.49},{"c":"8","x":1232,"y":0.48},{"c":"8","x":1245,"y":0.43},{"c":"8","x":1252,"y":0.3},{"c":"8","x":1235,"y":0.35},{"c":"8","x":1233,"y":0.25},{"c":"8","x":1235,"y":0.15},{"c":"8","x":1245,"y":0.25},{"c":"8","x":1245,"y":0.15},{"c":"8","x":1240,"y":0.1},{"c":"8","x":1243,"y":0.02},{"c":"8","x":1235,"y":0.04},{"c":"8","x":1252,"y":0.03},{"c":"8","x":1250,"y":0.2},{"c":"8","x":1245,"y":0.07},{"c":"8","x":1237,"y":0.1},{"c":"8","x":1240,"y":0.2},{"c":"8","x":1238,"y":0.3},{"c":"8","x":1248,"y":0.12},{"c":"8","x":1232,"y":0.1},
{"c":"9","x":1272,"y":2.36},{"c":"9","x":1272,"y":1.79},{"c":"9","x":1272,"y":1.53},{"c":"9","x":1272,"y":1.45},{"c":"9","x":1272,"y":1.38},{"c":"9","x":1272,"y":1.27},{"c":"9","x":1272,"y":1.22},{"c":"9","x":1272,"y":1.1},{"c":"9","x":1272,"y":1.03},{"c":"9","x":1272,"y":0.96},{"c":"9","x":1272,"y":0.9},{"c":"9","x":1272,"y":0.84},{"c":"9","x":1272,"y":0.78},{"c":"9","x":1272,"y":0.72},{"c":"9","x":1272,"y":0.66},{"c":"9","x":1272,"y":0.6},{"c":"9","x":1272,"y":0.54},{"c":"9","x":1272,"y":0.48},{"c":"9","x":1272,"y":0.42},{"c":"9","x":1272,"y":0.36},{"c":"9","x":1272,"y":0.3},{"c":"9","x":1272,"y":0.24},{"c":"9","x":1276,"y":0.2},{"c":"9","x":1272,"y":0.18},{"c":"9","x":1272,"y":0.12},{"c":"9","x":1272,"y":0.06},{"c":"9","x":1272,"y":0.02}
]},
"vconcat":[
{"width":1165,"height":407,"layer":[
{"data":{"name":"thr"},"mark":{"type":"rule","strokeDash":[9,5.5],"strokeWidth":2.2},"encoding":{"x":{"field":"x","type":"quantitative","scale":{"domain":[108,1273],"nice":false,"zero":false},"axis":{"offset":16,"values":[108,179,299,437,604,778,961,1128,1236,1273],"labelExpr":"{'108':'Chr','179':'1','299':'2','437':'3','604':'4','778':'5','961':'6','1128':'7','1236':'8','1273':'9'}[datum.value]","labelPadding":12,"labelFlush":false,"labelOverlap":false}},"x2":{"field":"x2"},"y":{"field":"y","type":"quantitative","scale":{"domain":[0,5],"nice":false},"axis":{"values":[0,1,2,3,4,5],"format":"d","labelPadding":9}},"color":{"field":"k","type":"nominal","scale":{"domain":["suggestive","significant"],"range":["#4a9bd4","#d35f5f"]},"legend":null}}},
{"data":{"name":"a"},"mark":{"type":"circle","size":115,"opacity":1},"encoding":{"x":{"field":"x","type":"quantitative"},"y":{"field":"y","type":"quantitative"},"fill":{"field":"c","type":"nominal","scale":{"domain":["1","2","3","4","5","6","7","8","9"],"range":["#3f97d9","#f8bc1e","#3f2d95","#4a5426","#d90b74","#e56616","#d37cb7","#7fd1a8","#7a1230"]},"legend":null}}},
{"data":{"name":"hitA"},"mark":{"type":"circle","size":160,"opacity":1},"encoding":{"x":{"field":"x","type":"quantitative"},"y":{"field":"y","type":"quantitative"},"fill":{"field":"c","type":"nominal","legend":null}}},
{"data":{"name":"snpA"},"mark":{"type":"text","font":"DejaVu Sans","fontSize":16,"color":"#222"},"encoding":{"x":{"field":"x","type":"quantitative"},"y":{"field":"y","type":"quantitative"},"text":{"field":"t"}}},
{"data":{"name":"geneA"},"mark":{"type":"text","font":"DejaVu Sans","fontSize":16,"fontWeight":"bold","fontStyle":"italic","color":"#a00000"},"encoding":{"x":{"field":"x","type":"quantitative"},"y":{"field":"y","type":"quantitative"},"text":{"field":"t"}}},
{"data":{"name":"tagA"},"mark":{"type":"circle","size":6084,"opacity":1,"fill":"#fdfb5e"},"encoding":{"x":{"field":"x","type":"quantitative"},"y":{"field":"y","type":"quantitative"}}},
{"data":{"name":"tagA"},"mark":{"type":"text","font":"Liberation Sans","fontSize":65,"color":"#000"},"encoding":{"x":{"field":"x","type":"quantitative"},"y":{"field":"y","type":"quantitative"},"text":{"field":"t"}}},
{"data":{"name":"ylab"},"mark":{"type":"text","font":"Liberation Sans","angle":270,"align":"left","baseline":"alphabetic","color":"#222"},"encoding":{"x":{"field":"x","type":"quantitative"},"y":{"field":"y","type":"quantitative"},"text":{"field":"t"},"size":{"condition":{"test":"datum.t=='10'","value":16},"value":23}}},
{"data":{"name":"ylabp"},"mark":{"type":"text","font":"Liberation Sans","fontSize":28,"angle":270,"align":"left","baseline":"alphabetic","color":"#222"},"encoding":{"x":{"field":"x","type":"quantitative"},"y":{"field":"y","type":"quantitative"},"text":{"field":"t"}}},
{"data":{"name":"ylabi"},"mark":{"type":"text","font":"Liberation Sans","fontSize":28,"fontStyle":"italic","angle":270,"align":"left","baseline":"alphabetic","color":"#222"},"encoding":{"x":{"field":"x","type":"quantitative"},"y":{"field":"y","type":"quantitative"},"text":{"field":"t"}}}
]},
{"width":1165,"height":407,"layer":[
{"data":{"name":"thr"},"mark":{"type":"rule","strokeDash":[9,5.5],"strokeWidth":2.2},"encoding":{"x":{"field":"x","type":"quantitative","scale":{"domain":[108,1273],"nice":false,"zero":false},"axis":{"offset":16,"values":[108,179,299,437,604,778,961,1128,1236,1273],"labelExpr":"{'108':'Chr','179':'1','299':'2','437':'3','604':'4','778':'5','961':'6','1128':'7','1236':'8','1273':'9'}[datum.value]","labelPadding":12,"labelFlush":false,"labelOverlap":false}},"x2":{"field":"x2"},"y":{"field":"y","type":"quantitative","scale":{"domain":[0,5],"nice":false},"axis":{"values":[0,1,2,3,4,5],"format":"d","labelPadding":9}},"color":{"field":"k","type":"nominal","scale":{"domain":["suggestive","significant"],"range":["#4a9bd4","#d35f5f"]},"legend":null}}},
{"data":{"name":"b"},"mark":{"type":"circle","size":115,"opacity":1},"encoding":{"x":{"field":"x","type":"quantitative"},"y":{"field":"y","type":"quantitative"},"fill":{"field":"c","type":"nominal","scale":{"domain":["1","2","3","4","5","6","7","8","9"],"range":["#3f97d9","#f8bc1e","#3f2d95","#4a5426","#d90b74","#e56616","#d37cb7","#7fd1a8","#7a1230"]},"legend":null}}},
{"data":{"name":"hitB"},"mark":{"type":"circle","size":160,"opacity":1},"encoding":{"x":{"field":"x","type":"quantitative"},"y":{"field":"y","type":"quantitative"},"fill":{"field":"c","type":"nominal","legend":null}}},
{"data":{"name":"snpB"},"mark":{"type":"text","font":"DejaVu Sans","fontSize":16,"color":"#222"},"encoding":{"x":{"field":"x","type":"quantitative"},"y":{"field":"y","type":"quantitative"},"text":{"field":"t"}}},
{"data":{"name":"geneB"},"mark":{"type":"text","font":"DejaVu Sans","fontSize":16,"fontWeight":"bold","fontStyle":"italic","color":"#a00000"},"encoding":{"x":{"field":"x","type":"quantitative"},"y":{"field":"y","type":"quantitative"},"text":{"field":"t"}}},
{"data":{"name":"tagB"},"mark":{"type":"circle","size":6084,"opacity":1,"fill":"#fdfb5e"},"encoding":{"x":{"field":"x","type":"quantitative"},"y":{"field":"y","type":"quantitative"}}},
{"data":{"name":"tagB"},"mark":{"type":"text","font":"Liberation Sans","fontSize":65,"color":"#000"},"encoding":{"x":{"field":"x","type":"quantitative"},"y":{"field":"y","type":"quantitative"},"text":{"field":"t"}}},
{"data":{"name":"ylab"},"mark":{"type":"text","font":"Liberation Sans","angle":270,"align":"left","baseline":"alphabetic","color":"#222"},"encoding":{"x":{"field":"x","type":"quantitative"},"y":{"field":"y","type":"quantitative"},"text":{"field":"t"},"size":{"condition":{"test":"datum.t=='10'","value":16},"value":23}}},
{"data":{"name":"ylabp"},"mark":{"type":"text","font":"Liberation Sans","fontSize":28,"angle":270,"align":"left","baseline":"alphabetic","color":"#222"},"encoding":{"x":{"field":"x","type":"quantitative"},"y":{"field":"y","type":"quantitative"},"text":{"field":"t"}}},
{"data":{"name":"ylabi"},"mark":{"type":"text","font":"Liberation Sans","fontSize":28,"fontStyle":"italic","angle":270,"align":"left","baseline":"alphabetic","color":"#222"},"encoding":{"x":{"field":"x","type":"quantitative"},"y":{"field":"y","type":"quantitative"},"text":{"field":"t"}}}
]}
]}
